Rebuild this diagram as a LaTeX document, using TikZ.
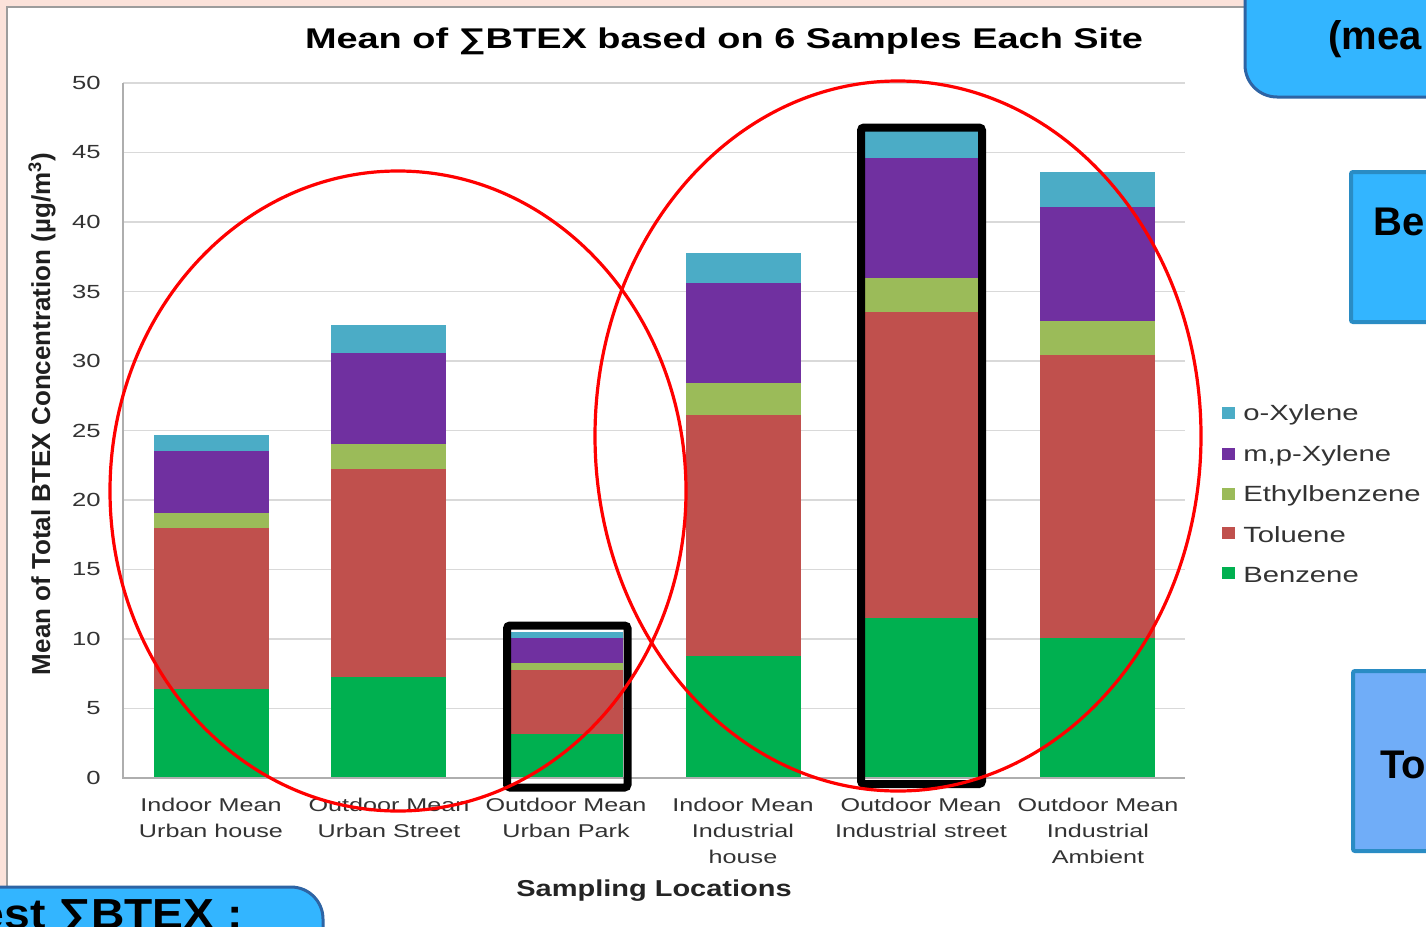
\documentclass[tikz,border=0pt]{standalone}
\usepackage{fontspec}
\setmainfont{Liberation Sans}
\definecolor{pinkbg}{HTML}{FBE2DA}
\definecolor{framegray}{HTML}{9C9C9C}
\definecolor{gridgray}{HTML}{D9D9D9}
\definecolor{txtgray}{HTML}{333333}
\definecolor{cBenz}{HTML}{00B050}
\definecolor{cTol}{HTML}{C0504D}
\definecolor{cEth}{HTML}{9BBB59}
\definecolor{cMp}{HTML}{7030A0}
\definecolor{cOx}{HTML}{4BACC6}
\definecolor{boxblue}{HTML}{33B5FF}
\definecolor{boxlight}{HTML}{70ADF8}
\definecolor{edgedark}{HTML}{2E64A4}
\definecolor{edgelight}{HTML}{2A8CC4}
\begin{document}
\begin{tikzpicture}[x=1pt,y=-1pt,
  ticklbl/.style={font=\fontsize{19}{19}\selectfont, text=txtgray, anchor=east, xscale=1.35, inner sep=0pt},
  catlbl/.style={font=\fontsize{18.5}{26}\selectfont, text=txtgray, align=center, xscale=1.36, inner sep=0pt},
  leglbl/.style={font=\fontsize{22}{22}\selectfont, text=txtgray, anchor=west, xscale=1.33, inner sep=0pt},
  hilite/.style={draw=black, line width=8pt, rounded corners=3pt},
  ring/.style={draw=red, line width=3.2pt},
  calloutA/.style={fill=boxblue, draw=edgedark, line width=3pt, rounded corners=32pt},
  calloutB/.style={draw=edgelight, line width=4pt, rounded corners=2pt},
  bigtxt/.style={font=\fontsize{40}{40}\selectfont\bfseries, text=black, inner sep=0pt}
]
\useasboundingbox (0,0) rectangle (1426,926);
% background and frame
\fill[pinkbg] (0,0) rectangle (1426,926);
\filldraw[fill=white, draw=framegray, line width=2pt] (7,7) rectangle (1440,940);
% grid
\foreach \k in {1,...,10} {
  \draw[gridgray, line width=1.5pt] (123,{778-69.5*\k}) -- (1185,{778-69.5*\k});
}
% bars
\foreach \xl/\b/\t/\e/\m/\o in {154/6.4/18.0/19.1/23.5/24.7, 331/7.3/22.2/24.0/30.6/32.6, 508/3.2/7.8/8.3/10.1/10.5, 686/8.8/26.1/28.4/35.6/37.8, 864/11.5/33.5/36.0/44.6/46.8, 1040/10.1/30.4/32.9/41.1/43.6} {
  \fill[cBenz] (\xl,778) rectangle ({\xl+115},{778-13.9*\b});
  \fill[cTol] (\xl,{778-13.9*\b}) rectangle ({\xl+115},{778-13.9*\t});
  \fill[cEth] (\xl,{778-13.9*\t}) rectangle ({\xl+115},{778-13.9*\e});
  \fill[cMp] (\xl,{778-13.9*\e}) rectangle ({\xl+115},{778-13.9*\m});
  \fill[cOx] (\xl,{778-13.9*\m}) rectangle ({\xl+115},{778-13.9*\o});
}
% axes
\draw[gridgray!80!black, line width=1.5pt] (123,83) -- (123,778) -- (1185,778);
% tick labels
\foreach \k in {0,...,10} {
  \pgfmathtruncatemacro{\v}{5*\k}
  \node[ticklbl] (t\k) at (101,{778-69.5*\k}) {\v};
}
% title
\node[font=\fontsize{28.5}{28.5}\selectfont\bfseries, xscale=1.33, inner sep=0pt] (title) at (724,41) {Mean of ∑BTEX based on 6 Samples Each Site};
% y-axis label
\node[font=\fontsize{26}{26}\selectfont\bfseries, text=txtgray!60!black, rotate=90, xscale=1.0, inner sep=0pt] (ylab) at (42,414) {Mean of Total BTEX Concentration (µg/m\textsuperscript{3})};
% category labels
\node[catlbl, anchor=north] (c1) at (211,798) {Indoor Mean\\Urban house};
\node[catlbl, anchor=north] (c2) at (389,798) {Outdoor Mean\\Urban Street};
\node[catlbl, anchor=north] (c3) at (566,798) {Outdoor Mean\\Urban Park};
\node[catlbl, anchor=north] (c4) at (743,798) {Indoor Mean\\Industrial\\house};
\node[catlbl, anchor=north] (c5) at (921,798) {Outdoor Mean\\Industrial street};
\node[catlbl, anchor=north] (c6) at (1098,798) {Outdoor Mean\\Industrial\\Ambient};
\node[font=\fontsize{23}{23}\selectfont\bfseries, text=txtgray!70!black, xscale=1.26, inner sep=0pt] (xlab) at (654,891) {Sampling Locations};
% legend
\foreach \c/\n/\yy in {cOx/o-Xylene/413, cMp/{m,p-Xylene}/454, cEth/Ethylbenzene/494, cTol/Toluene/533, cBenz/Benzene/573} {
  \fill[\c] (1222,{\yy-6}) rectangle (1235,{\yy+6});
  \node[leglbl] at (1243,{\yy+2}) {\n};
}
% highlight boxes
\draw[hilite] (507,625.5) rectangle (627.5,787.5);
\draw[hilite] (861,127.5) rectangle (982,784);
% ellipses
\draw[ring] (398,491) ellipse [x radius=288pt, y radius=320pt];
\draw[ring] (898,436) ellipse [x radius=303pt, y radius=355pt];
% callout boxes
\draw[calloutA] (1245,-60) rectangle (1500,97);
\node[bigtxt, anchor=west] (cal1) at (1328,39) {(mea};
\filldraw[calloutB, fill=boxblue] (1351,172) rectangle (1500,322);
\node[bigtxt, anchor=west] (cal2) at (1373,222) {Be};
\filldraw[calloutB, fill=boxlight] (1353,671) rectangle (1500,851);
\node[bigtxt, anchor=west] (cal3) at (1380,765) {To};
\draw[calloutA] (-60,887) rectangle (323,990);
\node[anchor=base east, font=\fontsize{42}{42}\selectfont\bfseries, xscale=1.1, inner sep=0pt] (cal4) at (243,928) {est ∑BTEX :};
\end{tikzpicture}
\end{document}
